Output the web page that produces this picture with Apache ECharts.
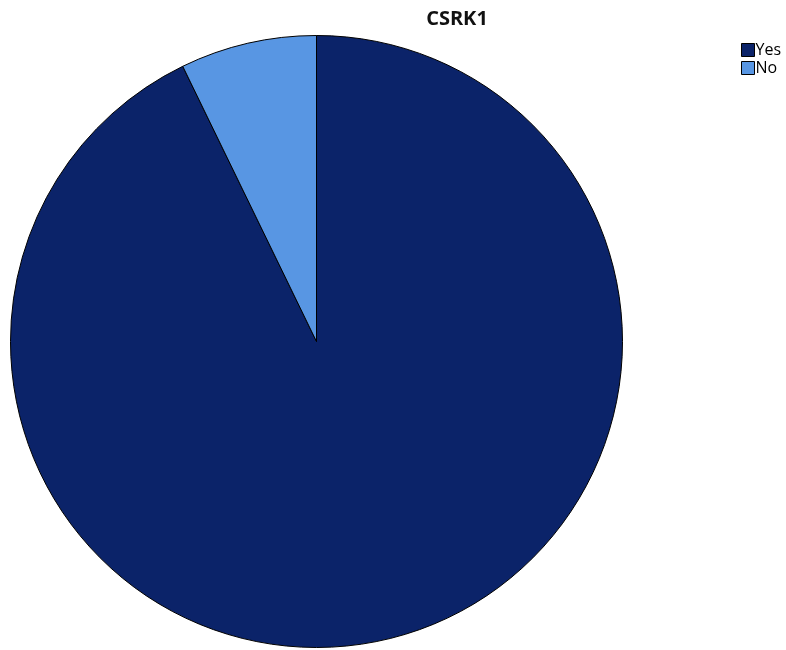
<!DOCTYPE html>
<html>
<head>
<meta charset="utf-8">
<script src="https://cdn.jsdelivr.net/npm/echarts@6/dist/echarts.min.js"></script>
<style>html,body{margin:0;padding:0;background:#fff}#c{width:786px;height:650px}</style>
</head>
<body>
<div id="c"></div>
<script>
const categories = ["Yes", "No"];
const values = [92.8, 7.2];
const colors = ["#0b2369", "#5896e3"];

const chart = echarts.init(document.getElementById('c'), null, {renderer: 'canvas'});
chart.setOption({
  animation: false,
  backgroundColor: '#ffffff',
  title: {
    text: 'CSRK1',
    left: 452,
    top: 4,
    textAlign: 'center',
    textStyle: {fontFamily: 'Open Sans, sans-serif', fontSize: 20, fontWeight: 'bold', color: '#111'}
  },
  legend: {
    orient: 'vertical',
    left: 736,
    top: 37,
    itemWidth: 13,
    itemHeight: 13,
    itemGap: 2,
    icon: 'rect',
    selectedMode: false,
    textStyle: {fontFamily: 'Open Sans, sans-serif', fontSize: 16, color: '#000', padding: [0, 0, 0, -4]},
    itemStyle: {borderColor: '#000', borderWidth: 1},
    data: categories
  },
  series: [{
    type: 'pie',
    center: [316.5, 341.5],
    radius: 306,
    startAngle: 90,
    clockwise: true,
    label: {show: false},
    labelLine: {show: false},
    emphasis: {disabled: true},
    itemStyle: {borderColor: '#000', borderWidth: 1},
    data: categories.map((c, i) => ({name: c, value: values[i], itemStyle: {color: colors[i]}}))
  }]
});
</script>
</body>
</html>
